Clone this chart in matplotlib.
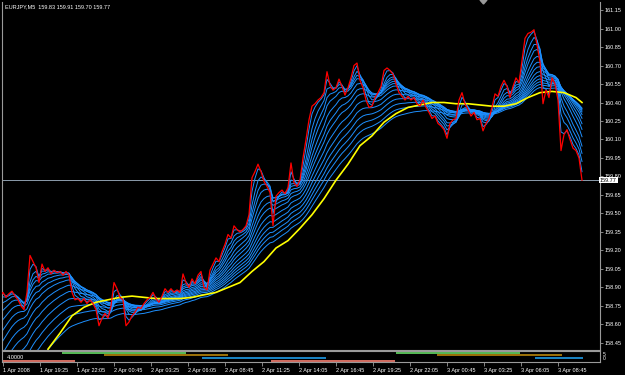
import numpy as np
import matplotlib
matplotlib.use('Agg')
import matplotlib.pyplot as plt
from matplotlib.patches import Polygon

plt.rcParams['font.family'] = ['DejaVu Sans Condensed', 'Liberation Sans', 'DejaVu Sans']

# EURJPY M5 closes, one value every ~2.6 bars
close = [158.83, 158.86, 158.82, 158.85, 158.87, 158.83, 158.80, 158.75, 158.72, 158.86,
         159.16, 159.11, 159.06, 158.94, 159.09, 159.03, 159.06, 159.01, 159.04, 159.02,
         159.03, 159.00, 159.03, 159.00, 158.86, 158.80, 158.81, 158.78, 158.81, 158.77,
         158.80, 158.77, 158.72, 158.59, 158.65, 158.69, 158.65, 158.75, 158.94, 158.89,
         158.82, 158.80, 158.59, 158.62, 158.67, 158.70, 158.74, 158.73, 158.77, 158.80,
         158.82, 158.86, 158.81, 158.78, 158.83, 158.89, 158.86, 158.89, 158.86, 158.88,
         158.86, 159.01, 158.94, 158.90, 158.97, 158.93, 159.00, 159.03, 158.90, 158.88,
         159.04, 159.09, 159.14, 159.11, 159.19, 159.25, 159.33, 159.30, 159.40, 159.37,
         159.35, 159.37, 159.40, 159.49, 159.79, 159.84, 159.90, 159.84, 159.76, 159.72,
         159.67, 159.40, 159.64, 159.67, 159.69, 159.66, 159.71, 159.91, 159.75, 159.72,
         159.77, 159.95, 160.10, 160.26, 160.37, 160.39, 160.42, 160.44, 160.48, 160.65,
         160.54, 160.50, 160.52, 160.59, 160.53, 160.46, 160.52, 160.60, 160.70, 160.72,
         160.58, 160.52, 160.42, 160.36, 160.37, 160.44, 160.48, 160.53, 160.66, 160.68,
         160.66, 160.63, 160.55, 160.48, 160.45, 160.42, 160.45, 160.42, 160.44, 160.39,
         160.37, 160.42, 160.36, 160.32, 160.27, 160.29, 160.23, 160.21, 160.18, 160.11,
         160.23, 160.26, 160.27, 160.42, 160.48, 160.39, 160.34, 160.29, 160.32, 160.26,
         160.27, 160.17, 160.23, 160.27, 160.36, 160.47, 160.45, 160.53, 160.58, 160.53,
         160.44, 160.53, 160.60, 160.56, 160.74, 160.92, 160.96, 160.97, 160.99, 160.87,
         160.73, 160.39, 160.50, 160.44, 160.60, 160.55, 160.42, 160.01, 160.14, 160.18,
         160.10, 160.03, 160.01, 159.95, 159.77]

# slow yellow average
yellow_bars = list(range(16, 196, 4)) + [194]
yellow = [158.40, 158.53, 158.67, 158.74, 158.78, 158.80, 158.82, 158.83, 158.82, 158.81,
          158.81, 158.81, 158.82, 158.84, 158.86, 158.90, 158.94, 159.03, 159.11, 159.22,
          159.28, 159.38, 159.49, 159.62, 159.77, 159.90, 160.05, 160.13, 160.24, 160.31,
          160.36, 160.38, 160.40, 160.40, 160.39, 160.39, 160.38, 160.37, 160.37, 160.39,
          160.44, 160.48, 160.49, 160.48, 160.44, 160.40]

# blue ribbon: ema periods (in samples) and their values at the left edge
ribbon_periods = [2, 4, 6, 8, 11, 14, 17, 21, 25, 29, 33, 37, 42]
ribbon_start = [158.84, 158.78, 158.71, 158.63, 158.55, 158.46, 158.37, 158.27,
                158.17, 158.06, 157.95, 157.84, 157.72]

last_price = 159.77
title = "EURJPY,M5  159.83 159.91 159.70 159.77"
price_ticks = [158.45, 158.60, 158.75, 158.90, 159.05, 159.20, 159.35, 159.50, 159.65,
               159.80, 159.95, 160.10, 160.25, 160.40, 160.55, 160.70, 160.85, 161.00, 161.15]
date_labels = ["1 Apr 2008", "1 Apr 19:25", "1 Apr 22:05", "2 Apr 00:45", "2 Apr 03:25",
               "2 Apr 06:05", "2 Apr 08:45", "2 Apr 11:25", "2 Apr 14:05", "2 Apr 16:45",
               "2 Apr 19:25", "2 Apr 22:05", "3 Apr 00:45", "3 Apr 03:25", "3 Apr 06:05",
               "3 Apr 08:45"]

# sub-window segments: (level, start, end)
ind_salmon = [(0, 1.1, 25.0), (0, 90.3, 131.7)]
ind_green = [(5, 20.7, 62.0), (5, 132.0, 173.3)]
ind_brown = [(3.5, 34.7, 76.0), (3.5, 145.7, 187.3)]
ind_blue = [(1.5, 67.2, 108.5), (1.5, 178.3, 194.3)]


def ema_from(seed, values, n):
    a = 2.0 / (n + 1)
    out = np.empty(len(values))
    v = seed
    for i, p in enumerate(values):
        v = v + a * (p - v)
        out[i] = v
    return out


W, H = 625, 375
frame = '#9a9a9a'
fs = 4.0


def box(x0, y0, x1, y1):
    return [x0 / W, 1 - y1 / H, (x1 - x0) / W, (y1 - y0) / H]


fig = plt.figure(figsize=(6.25, 3.75), dpi=100, facecolor='black')
ax = fig.add_axes(box(2, 2, 600, 350))
axi = fig.add_axes(box(2, 351, 600, 362), sharex=ax)

bars = np.arange(len(close))
for n, s in zip(ribbon_periods, ribbon_start):
    ax.plot(bars, ema_from(s, close, n), color='#1e90ff', lw=0.7, zorder=2)
ax.plot(yellow_bars, yellow, color='#ffff00', lw=1.2, zorder=3)
ax.plot(bars, close, color='#ff0000', lw=0.9, zorder=4)
ax.axhline(last_price, color='#8c9cac', lw=0.7, zorder=1)

ax.set_facecolor('black')
ax.set_xlim(2 / 3, 200)
ax.set_ylim(158.393, 161.215)
ax.yaxis.tick_right()
ax.set_yticks(price_ticks)
ax.set_yticklabels([f"{t:.2f}" for t in price_ticks])
ax.tick_params(axis='y', direction='out', length=2, width=0.6, color=frame,
               labelcolor='white', labelsize=fs, pad=1)
ax.tick_params(axis='x', bottom=False, labelbottom=False)
ax.spines['top'].set_visible(False)
for side in ['left', 'right', 'bottom']:
    ax.spines[side].set_color(frame)
    ax.spines[side].set_linewidth(0.8)

ax.text(1.0, last_price, f"{last_price:.2f}", transform=ax.get_yaxis_transform(),
        ha='left', va='center', fontsize=fs, color='black', clip_on=False, zorder=10,
        bbox=dict(boxstyle='square,pad=0.12', fc='white', ec='none'))
fig.text(5 / W, 1 - 7 / H, title, color='white', fontsize=fs, va='center', ha='left')
fig.add_artist(Polygon([[480 / W, 1.0], [487 / W, 1.0], [483.5 / W, 1 - 4 / H]],
                       closed=True, transform=fig.transFigure, color=frame))

# sub-window
axi.set_facecolor('black')
for segs, col in [(ind_green, '#66dd66'), (ind_brown, '#b8860b'),
                  (ind_blue, '#1e9be8'), (ind_salmon, '#fa8072')]:
    for lev, x0, x1 in segs:
        axi.plot([x0, x1], [lev, lev], color=col, lw=1.2, solid_capstyle='butt')
axi.set_ylim(-0.9, 6.3)
axi.set_yticks([])
axi.text(0.008, 0.45, "4.0000", transform=axi.transAxes, color='white', fontsize=fs,
         va='center', ha='left')
axi.text(1.005, 0.72, "5", transform=axi.transAxes, color='white', fontsize=3.6,
         va='center', ha='left', clip_on=False)
axi.text(1.005, 0.28, "0", transform=axi.transAxes, color='white', fontsize=3.6,
         va='center', ha='left', clip_on=False)
for side in ['left', 'right', 'bottom', 'top']:
    axi.spines[side].set_color(frame)
    axi.spines[side].set_linewidth(0.8)

tick_x = [(3 + 37 * i) / 3 for i in range(len(date_labels))]
axi.set_xticks(tick_x)
axi.set_xticklabels(date_labels)
for lab in axi.get_xticklabels():
    lab.set_ha('left')
axi.tick_params(axis='x', direction='out', length=3, width=0.6, color=frame,
                labelcolor='white', labelsize=fs, pad=1)

fig.savefig('out.png', dpi=100, facecolor='black')
